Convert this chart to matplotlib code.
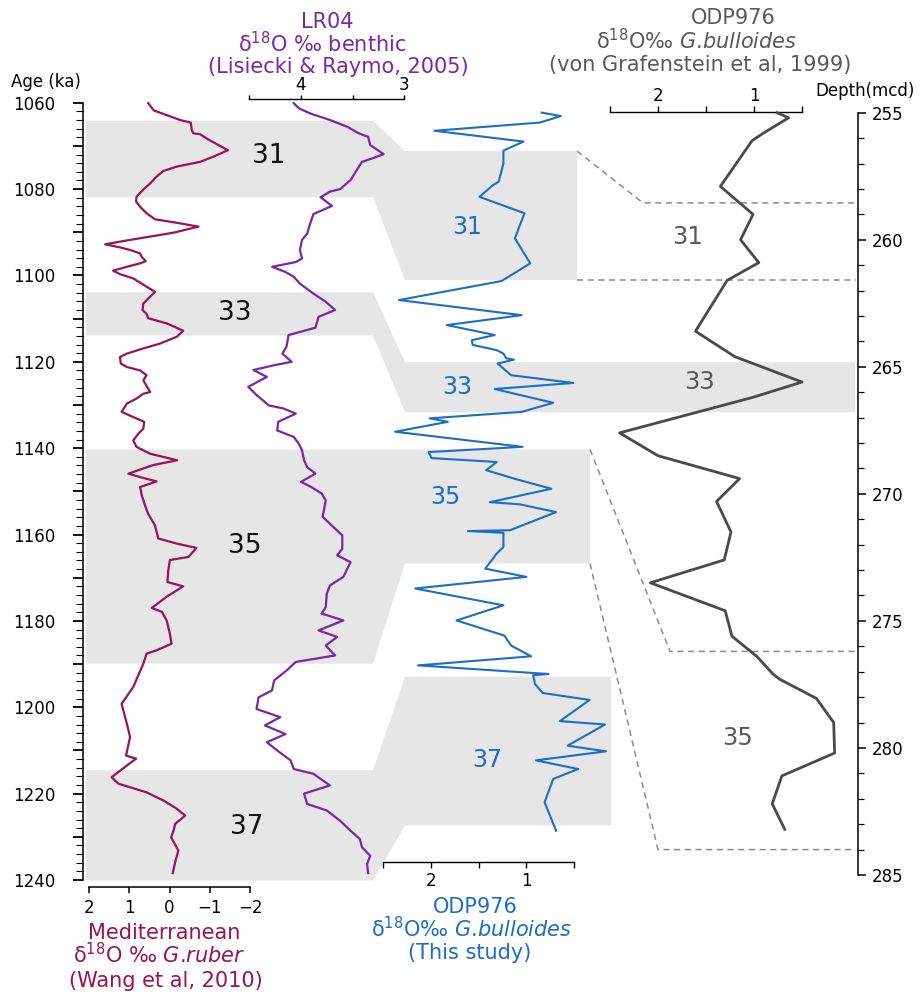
import matplotlib

matplotlib.use("Agg")
import matplotlib.pyplot as plt
from matplotlib.ticker import FixedLocator, FuncFormatter, MultipleLocator

W, H = 921, 994

# Mediterranean planktonic d18O, G. ruber (Wang et al., 2010)
ruber_age = [
    1060.1, 1061.8, 1062.6, 1064.0, 1064.6, 1066.2, 1067.1, 1067.3, 1068.5, 1071.0,
    1072.5, 1073.7, 1074.8, 1075.8, 1077.1, 1078.7, 1080.1, 1081.8, 1082.9, 1084.1,
    1085.6, 1087.0, 1087.8, 1088.7, 1090.1, 1091.0, 1091.9, 1092.8, 1093.5, 1094.1,
    1094.9, 1095.7, 1096.7, 1097.2, 1098.0, 1098.9, 1099.7, 1100.7, 1102.6, 1103.8,
    1104.9, 1106.5, 1108.0, 1108.9, 1109.9, 1111.1, 1112.8, 1114.2, 1115.8, 1116.9,
    1118.1, 1118.9, 1120.4, 1121.2, 1122.0, 1123.1, 1124.3, 1127.0, 1127.4, 1128.5,
    1129.7, 1131.6, 1132.8, 1133.9, 1135.5, 1136.6, 1138.2, 1139.7, 1141.3, 1142.8,
    1143.9, 1144.7, 1145.9, 1146.7, 1147.7, 1149.0, 1150.9, 1153.2, 1155.2, 1157.9,
    1160.9, 1162.1, 1163.1, 1165.2, 1165.9, 1168.3, 1171.0, 1172.0, 1174.4, 1177.0,
    1177.9, 1179.9, 1183.0, 1185.3, 1186.8, 1187.6, 1189.9, 1195.3, 1199.2, 1203.8,
    1206.9, 1211.2, 1211.9, 1213.5, 1216.2, 1217.7, 1219.7, 1221.6, 1223.5, 1225.1,
    1227.0, 1228.6, 1230.1, 1233.2, 1235.5, 1238.4,
]
ruber_d18o = [
    0.53, 0.39, 0.15, -0.26, -0.53, -0.55, -0.59, -0.76, -0.96, -1.45,
    -1.09, -0.76, -0.18, 0.15, 0.32, 0.48, 0.65, 0.82, 0.83, 0.73,
    0.57, 0.36, -0.18, -0.72, -0.10, 0.48, 1.06, 1.60, 1.23, 0.98,
    0.73, 0.69, 0.59, 0.73, 1.06, 1.40, 1.23, 0.90, 0.57, 0.36,
    0.48, 0.65, 0.67, 0.57, 0.53, 0.07, -0.34, -0.18, 0.24, 0.65,
    1.06, 1.23, 1.21, 1.06, 0.73, 0.57, 0.65, 0.48, 0.65, 0.82,
    1.06, 1.19, 0.90, 0.63, 0.65, 0.77, 0.90, 0.82, 0.48, -0.19,
    0.40, 0.65, 1.02, 0.73, 0.32, 0.73, 0.69, 0.61, 0.53, 0.36,
    0.28, -0.18, -0.67, -0.47, -0.01, 0.03, 0.05, -0.34, 0.07, 0.44,
    0.19, 0.07, -0.01, -0.05, 0.32, 0.57, 0.65, 0.90, 1.19, 1.06,
    0.98, 1.08, 0.83, 1.06, 1.44, 1.27, 0.57, 0.15, -0.18, -0.39,
    -0.14, -0.10, -0.04, -0.22, -0.15, -0.08,
]

# LR04 benthic stack (Lisiecki & Raymo, 2005)
lr04_age = [
    1060.1, 1061.3, 1062.5, 1064.0, 1065.6, 1067.1, 1067.9, 1069.8, 1071.9, 1072.9,
    1073.7, 1075.6, 1077.9, 1080.0, 1080.6, 1081.9, 1083.9, 1085.8, 1087.9, 1090.3,
    1091.8, 1094.1, 1096.1, 1096.9, 1098.0, 1099.2, 1100.3, 1101.9, 1104.2, 1106.1,
    1108.0, 1109.6, 1112.1, 1113.8, 1116.5, 1118.1, 1120.0, 1120.8, 1121.9, 1123.5,
    1125.8, 1127.7, 1130.1, 1130.8, 1132.0, 1133.9, 1135.9, 1137.4, 1139.0, 1140.5,
    1142.8, 1144.4, 1145.9, 1147.8, 1149.0, 1150.5, 1152.1, 1155.9, 1157.5, 1160.2,
    1163.3, 1164.8, 1166.4, 1169.8, 1171.8, 1173.7, 1176.8, 1178.3, 1179.9, 1182.2,
    1183.7, 1185.7, 1188.0, 1189.5, 1191.5, 1193.8, 1196.1, 1197.7, 1200.4, 1202.3,
    1204.2, 1206.2, 1208.1, 1210.0, 1212.3, 1214.3, 1215.4, 1218.1, 1220.0, 1222.4,
    1223.9, 1226.3, 1228.6, 1230.5, 1232.4, 1234.4, 1236.3, 1238.4,
]
lr04_d18o = [
    4.07, 4.02, 3.91, 3.72, 3.55, 3.44, 3.35, 3.33, 3.20, 3.31,
    3.41, 3.46, 3.52, 3.62, 3.72, 3.81, 3.70, 3.88, 3.91, 3.94,
    3.99, 4.01, 3.99, 4.05, 4.28, 4.15, 4.07, 4.01, 3.88, 3.76,
    3.67, 3.83, 3.86, 4.12, 4.14, 4.18, 4.09, 4.26, 4.46, 4.33,
    4.51, 4.43, 4.31, 4.17, 4.05, 4.22, 4.23, 4.07, 4.02, 3.99,
    3.97, 3.94, 3.86, 4.00, 3.90, 3.80, 3.76, 3.79, 3.72, 3.60,
    3.60, 3.65, 3.52, 3.59, 3.72, 3.75, 3.76, 3.80, 3.59, 3.83,
    3.65, 3.76, 3.67, 4.05, 4.14, 4.26, 4.28, 4.41, 4.43, 4.20,
    4.35, 4.15, 4.33, 4.23, 4.10, 4.07, 3.88, 3.72, 3.97, 3.94,
    3.75, 3.62, 3.52, 3.43, 3.41, 3.33, 3.36, 3.35,
]

# ODP976 G. bulloides, this study
odp_age = [
    1062.3, 1063.1, 1064.6, 1066.5, 1069.0, 1071.1, 1074.1, 1078.3, 1079.1, 1081.8,
    1085.6, 1091.4, 1097.2, 1101.3, 1105.7, 1109.2, 1111.5, 1113.8, 1115.0, 1116.1,
    1117.3, 1118.1, 1119.2, 1119.5, 1120.4, 1123.1, 1124.9, 1126.3, 1129.5, 1131.6,
    1133.1, 1133.9, 1136.2, 1139.7, 1140.9, 1142.3, 1143.2, 1145.1, 1147.1, 1149.4,
    1152.5, 1153.0, 1154.8, 1159.0, 1159.2, 1159.6, 1162.9, 1164.4, 1165.6, 1167.9,
    1169.8, 1172.5, 1176.4, 1179.9, 1183.4, 1185.7, 1188.2, 1190.3, 1192.3, 1192.6,
    1194.6, 1196.7, 1198.3, 1203.2, 1204.0, 1208.9, 1210.2, 1212.3, 1214.3, 1216.6,
    1222.0, 1228.6,
]
odp_d18o = [
    0.84, 0.64, 0.86, 1.96, 1.03, 1.24, 1.24, 1.29, 1.35, 1.49,
    1.02, 1.12, 0.96, 1.26, 2.33, 1.05, 1.83, 1.33, 1.57, 1.56,
    1.31, 1.24, 1.21, 1.13, 1.30, 1.16, 0.51, 1.33, 0.72, 1.05,
    2.01, 1.82, 2.37, 1.04, 2.02, 1.99, 1.31, 1.42, 1.12, 0.74,
    1.38, 1.07, 0.69, 1.17, 1.61, 1.24, 1.24, 1.31, 1.35, 1.43,
    1.00, 2.16, 1.24, 1.73, 1.23, 1.16, 0.95, 2.13, 0.77, 0.93,
    0.91, 0.83, 0.34, 0.65, 0.18, 0.57, 0.17, 0.90, 0.46, 0.72,
    0.81, 0.69,
]

# ODP976 G. bulloides (von Grafenstein et al., 1999), depth scale
vg_depth = [
    255.0, 255.2, 255.8, 256.1, 257.9, 259.0, 260.0, 260.9, 261.6, 263.6,
    264.6, 265.6, 266.2, 267.6, 268.5, 269.4, 270.3, 271.5, 272.6, 273.5,
    274.6, 275.6, 276.4, 277.1, 277.3, 278.05, 279.0, 280.2, 281.1, 282.2,
    283.2,
]
vg_d18o = [
    0.76, 0.64, 0.90, 1.02, 1.35, 1.01, 1.14, 0.95, 1.28, 1.61,
    1.20, 0.50, 1.01, 2.40, 2.00, 1.15, 1.39, 1.24, 1.31, 2.08,
    1.30, 1.23, 0.97, 0.80, 0.73, 0.35, 0.17, 0.16, 0.71, 0.81,
    0.68,
]

# marine isotope stages: ages on the stack side and on the ODP976 side
mis_names = ["31", "33", "35", "37"]
mis_stack_top = [1064.2, 1103.9, 1140.3, 1214.6]
mis_stack_base = [1081.9, 1113.9, 1189.9, 1240.1]
mis_odp_top = [1071.2, 1120.1, 1140.3, 1192.9]
mis_odp_base = [1101.1, 1131.7, 1166.7, 1227.4]

# same stages on the von Grafenstein depth scale
core_names = ["31", "33", "35"]
core_top = [258.55, 264.8, 276.2]
core_base = [261.6, 266.8, 284.0]

RED = "#9B1350"
PURPLE = "#7A26A8"
BLUE = "#1B6EC8"
GREY = "#595959"
BAND = "#E6E6E6"

plt.rcParams["font.family"] = "DejaVu Sans"
plt.rcParams["mathtext.fontset"] = "dejavusans"

fig = plt.figure(figsize=(W / 100, H / 100), dpi=100, facecolor="white")
bg = fig.add_axes([0, 0, 1, 1])
bg.set_xlim(0, W)
bg.set_ylim(0, H)
bg.axis("off")


def px_axes(x0, y0, x1, y1):
    ax = fig.add_axes([x0 / W, 1 - y1 / H, (x1 - x0) / W, (y1 - y0) / H])
    ax.patch.set_alpha(0)
    return ax


def put(x, y, s, **kw):
    bg.text(x, H - y, s, **kw)


def int_labels(v, pos):
    return f"{v:.0f}".replace("-", "\u2212") if v == int(v) else ""


# --- Mediterranean panel, carries the age axis
ax_red = px_axes(89, 102.7, 250, 880)
ax_red.set_xlim(2, -2)
ax_red.set_ylim(1240, 1060)
ax_red.plot(ruber_d18o, ruber_age, color=RED, lw=1.6, clip_on=False, zorder=3)
for s in ["top", "right"]:
    ax_red.spines[s].set_visible(False)
ax_red.spines["left"].set_position(("outward", 4.3))
ax_red.spines["bottom"].set_position(("outward", 5))
for s in ["left", "bottom"]:
    ax_red.spines[s].set_linewidth(1.1)
ax_red.yaxis.set_major_locator(MultipleLocator(10))
ax_red.yaxis.set_minor_locator(MultipleLocator(2))
ax_red.yaxis.set_major_formatter(
    FuncFormatter(lambda v, p: f"{v:.0f}" if round(v) % 20 == 0 else "")
)
ax_red.tick_params(axis="y", which="major", length=7.2, width=1.3, labelsize=12, pad=12.5)
ax_red.tick_params(axis="y", which="minor", length=5, width=0.8)
ax_red.xaxis.set_major_locator(FixedLocator([2, 1, 0, -1, -2]))
ax_red.xaxis.set_major_formatter(FuncFormatter(int_labels))
ax_red.tick_params(axis="x", length=4.5, width=1.1, labelsize=12, pad=4.5)

# --- LR04 panel
ax_lr = px_axes(249.3, 102.7, 404.3, 880)
ax_lr.set_xlim(4.5, 3.0)
ax_lr.set_ylim(1240, 1060)
ax_lr.plot(lr04_d18o, lr04_age, color=PURPLE, lw=1.6, clip_on=False, zorder=3)
for s in ["left", "right", "bottom"]:
    ax_lr.spines[s].set_visible(False)
ax_lr.spines["top"].set_position(("outward", 2.7))
ax_lr.spines["top"].set_linewidth(1.0)
ax_lr.xaxis.tick_top()
ax_lr.xaxis.set_major_locator(FixedLocator([4.5, 4, 3.5, 3]))
ax_lr.xaxis.set_major_formatter(FuncFormatter(int_labels))
ax_lr.tick_params(axis="x", length=3, width=1.0, labelsize=12, pad=0.5)
ax_lr.set_yticks([])

# --- ODP976 (this study)
ax_odp = px_axes(382.7, 102.7, 574.3, 880)
ax_odp.set_xlim(2.5, 0.5)
ax_odp.set_ylim(1240, 1060)
ax_odp.plot(odp_d18o, odp_age, color=BLUE, lw=1.5, clip_on=False, zorder=3)
for s in ["left", "right", "top"]:
    ax_odp.spines[s].set_visible(False)
ax_odp.spines["bottom"].set_position(("axes", (880 - 862) / (880 - 102.7)))
ax_odp.spines["bottom"].set_linewidth(1.0)
ax_odp.xaxis.set_major_locator(FixedLocator([2.5, 2, 1.5, 1, 0.5]))
ax_odp.xaxis.set_major_formatter(FuncFormatter(int_labels))
ax_odp.tick_params(axis="x", length=4, width=1.0, labelsize=12, pad=3.5)
ax_odp.set_yticks([])

# --- ODP976 (von Grafenstein) on its depth scale
ax_core = px_axes(610, 112.7, 858.3, 875)
ax_core.set_xlim(2.5, 2.5 - (858.3 - 610) / 96)
ax_core.set_ylim(285, 255)
ax_core.plot(vg_d18o, vg_depth, color="#4A4A4A", lw=2.0, clip_on=False, zorder=3)
for s in ["left", "bottom"]:
    ax_core.spines[s].set_visible(False)
ax_core.spines["top"].set_bounds(0.5, 2.5)
ax_core.spines["top"].set_position(("outward", 0.7))
ax_core.spines["top"].set_linewidth(1.0)
ax_core.spines["right"].set_linewidth(1.1)
ax_core.xaxis.tick_top()
ax_core.xaxis.set_major_locator(FixedLocator([2.5, 2, 1.5, 1, 0.5]))
ax_core.xaxis.set_major_formatter(FuncFormatter(int_labels))
ax_core.tick_params(axis="x", length=4.3, width=1.0, labelsize=12, pad=0.5)
ax_core.yaxis.tick_right()
ax_core.yaxis.set_major_locator(MultipleLocator(5))
ax_core.yaxis.set_minor_locator(MultipleLocator(1))
ax_core.tick_params(axis="y", which="major", length=5.8, width=1.1, labelsize=12, pad=4)
ax_core.tick_params(axis="y", which="minor", length=4, width=0.9)


def y_age(a):
    return ax_red.transData.transform((0, a))[1]


def y_depth(d):
    return ax_core.transData.transform((1, d))[1]


# stage bands, slanting from the stack column to the ODP976 column
mid_right = [577, 855, 590, 611]
for i in range(len(mis_names)):
    lt, lb = y_age(mis_stack_top[i]), y_age(mis_stack_base[i])
    mt, mb = y_age(mis_odp_top[i]), y_age(mis_odp_base[i])
    xr = mid_right[i]
    bg.fill(
        [86, 373, 405, xr, xr, 405, 373, 86],
        [lt, lt, mt, mt, mb, mb, lb, lb],
        color=BAND, lw=0, zorder=0,
    )

# dashed tie lines to the depth scale (stages 31 and 35)
ties = [(0, 0, 643, 577), (2, 2, 670, 658)]
for i, j, kink_top, kink_base in ties:
    xr = mid_right[i]
    for a, d, kx in [
        (mis_odp_top[i], core_top[j], kink_top),
        (mis_odp_base[i], core_base[j], kink_base),
    ]:
        bg.plot([xr, kx, 856], [y_age(a), y_depth(d), y_depth(d)],
                color="#8C8C8C", lw=1.1, ls=(0, (4, 3)), zorder=1)

# stage numbers
for s, (x, y) in zip(mis_names, [(269, 156), (235, 313), (245, 546), (247, 827)]):
    put(x, y, s, fontsize=19, color="#111111", ha="center", va="center")
for s, (x, y) in zip(mis_names, [(467, 227), (457, 387), (445, 497), (487, 760)]):
    put(x, y, s, fontsize=17, color=BLUE, ha="center", va="center")
for s, (x, y) in zip(core_names, [(688, 237), (700, 382), (738, 738)]):
    put(x, y, s, fontsize=17.5, color=GREY, ha="center", va="center")

# axis titles
put(46, 82, "Age (ka)", fontsize=12, ha="center", va="center")
put(815, 91, "Depth(mcd)", fontsize=12, ha="left", va="center")

bulloides = "δ$^{18}$O‰ $\\mathit{G}$.$\\mathit{bulloides}$"
title_kw = dict(fontsize=15, ha="center", va="baseline")
put(327, 28.3, "LR04", color=PURPLE, **title_kw)
put(322, 51.7, "δ$^{18}$O ‰ benthic", color=PURPLE, **title_kw)
put(338, 73.3, "(Lisiecki & Raymo, 2005)", color=PURPLE, **title_kw)

put(733, 24.5, "ODP976", color=GREY, **title_kw)
put(697, 48.8, bulloides, color=GREY, **title_kw)
put(700, 70.5, "(von Grafenstein et al, 1999)", color=GREY, **title_kw)

put(164, 939, "Mediterranean", color=RED, **title_kw)
put(159, 963.3, "δ$^{18}$O ‰ $\\mathit{G}$.$\\mathit{ruber}$", color=RED, **title_kw)
put(166, 986.7, "(Wang et al, 2010)", color=RED, **title_kw)

put(475, 913, "ODP976", color=BLUE, **title_kw)
put(472, 937.2, bulloides, color=BLUE, **title_kw)
put(470, 959, "(This study)", color=BLUE, **title_kw)

fig.savefig("out.png", dpi=100, facecolor="white")
